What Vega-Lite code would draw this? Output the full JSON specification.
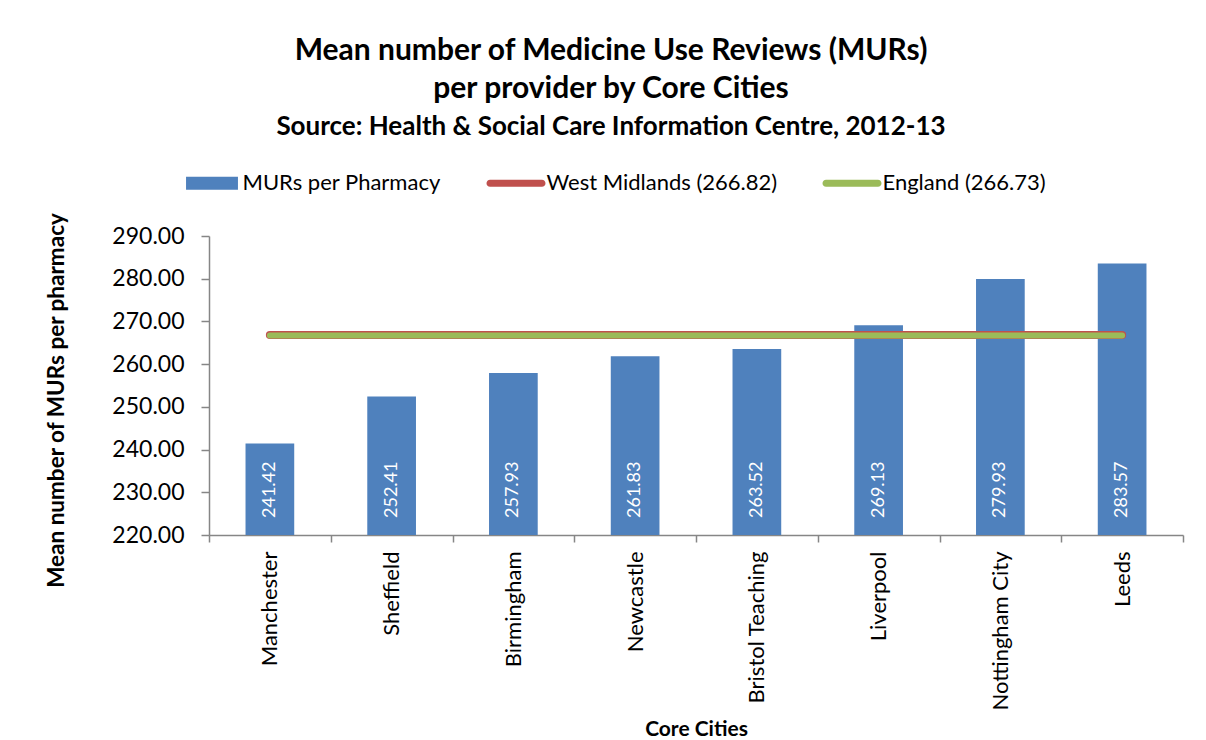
{
  "$schema": "https://vega.github.io/schema/vega-lite/v6.json",
  "width": 974,
  "height": 299,
  "autosize": "none",
  "padding": {"left": 209, "top": 236, "right": 23, "bottom": 205},
  "background": "white",
  "config": {
    "font": "Lato",
    "view": {"stroke": null},
    "legend": {
      "orient": "none",
      "legendX": -26.5,
      "legendY": -82.5,
      "direction": "horizontal",
      "title": null,
      "symbolSize": 3481,
      "symbolStrokeWidth": 0,
      "labelFontSize": 22,
      "labelColor": "black",
      "labelOffset": 1,
      "columnPadding": 44,
      "labelLimit": 400
    }
  },
  "title": {
    "text": ["Mean number of Medicine Use Reviews (MURs)", "per provider by Core Cities"],
    "subtitle": "Source: Health & Social Care Information Centre, 2012-13",
    "fontSize": 30,
    "fontWeight": "bold",
    "color": "black",
    "subtitleFontSize": 26,
    "subtitleFontWeight": "bold",
    "subtitleColor": "black",
    "subtitleFont": "Lato",
    "anchor": "middle",
    "dx": -85,
    "lineHeight": 38,
    "subtitlePadding": 10,
    "offset": 14
  },
  "datasets": {
    "bars": [
      {"city": "Manchester", "value": 241.42},
      {"city": "Sheffield", "value": 252.41},
      {"city": "Birmingham", "value": 257.93},
      {"city": "Newcastle", "value": 261.83},
      {"city": "Bristol Teaching", "value": 263.52},
      {"city": "Liverpool", "value": 269.13},
      {"city": "Nottingham City", "value": 279.93},
      {"city": "Leeds", "value": 283.57}
    ],
    "lines": [
      {"series": "West Midlands (266.82)", "city": "Manchester", "value": 266.82},
      {"series": "West Midlands (266.82)", "city": "Leeds", "value": 266.82},
      {"series": "England (266.73)", "city": "Manchester", "value": 266.73},
      {"series": "England (266.73)", "city": "Leeds", "value": 266.73}
    ]
  },
  "encoding": {
    "x": {
      "field": "city",
      "type": "nominal",
      "sort": null,
      "scale": {
        "domain": ["Manchester", "Sheffield", "Birmingham", "Newcastle", "Bristol Teaching", "Liverpool", "Nottingham City", "Leeds"],
        "paddingInner": 0,
        "paddingOuter": 0
      },
      "axis": {
        "title": "Core Cities",
        "titleFontSize": 21,
        "titleFontWeight": "bold",
        "titleColor": "black",
        "titlePadding": 8,
        "labelAngle": 270,
        "labelFontSize": 22,
        "labelColor": "black",
        "labelPadding": 9,
        "labelLimit": 400,
        "tickBand": "extent",
        "tickSize": 7,
        "tickColor": "#868686",
        "domainColor": "#868686",
        "domainWidth": 1.5,
        "tickWidth": 1.5
      }
    }
  },
  "layer": [
    {
      "data": {"name": "bars"},
      "mark": {"type": "bar", "width": {"band": 0.4}, "clip": true},
      "encoding": {
        "y": {
          "field": "value",
          "type": "quantitative",
          "scale": {"domain": [220, 290], "nice": false, "zero": false},
          "axis": {
            "title": "Mean number of MURs per pharmacy",
            "titleFontSize": 22.5,
            "titleFontWeight": "bold",
            "titleColor": "black",
            "titlePadding": 43,
            "titleY": 164,
            "values": [220, 230, 240, 250, 260, 270, 280, 290],
            "format": ".2f",
            "labelFontSize": 23,
            "labelColor": "black",
            "labelPadding": 17,
            "tickSize": 8,
            "tickColor": "#868686",
            "domainColor": "#868686",
            "domainWidth": 1.5,
            "tickWidth": 1.5,
            "grid": false
          }
        },
        "color": {
          "datum": "MURs per Pharmacy",
          "type": "nominal",
          "scale": {
            "domain": ["MURs per Pharmacy", "West Midlands (266.82)", "England (266.73)"],
            "range": ["#4F81BD", "#C0504D", "#9BBB59"]
          },
          "legend": {
            "title": null,
            "encode": {
              "symbols": {
                "update": {
                  "shape": {"signal": "datum.value === 'MURs per Pharmacy' ? 'M-0.88,-0.22H0.88V0.22H-0.88Z' : 'M-0.88,-0.12H0.88A0.12,0.12 0 0 1 0.88,0.12H-0.88A0.12,0.12 0 0 1 -0.88,-0.12ZM0,-0.22L0.001,-0.22M0,0.22L0.001,0.22'"},
                  "fill": {"scale": "color", "field": "value"},
                  "stroke": {"value": "transparent"},
                  "opacity": {"value": 1},
                  "fillOpacity": {"value": 1},
                  "strokeOpacity": {"value": 0}
                }
              }
            }
          }
        }
      }
    },
    {
      "data": {"name": "bars"},
      "mark": {"type": "text", "angle": 270, "align": "left", "baseline": "middle", "dx": 17, "fontSize": 18, "color": "white"},
      "encoding": {
        "y": {"datum": 220, "type": "quantitative"},
        "text": {"field": "value", "type": "quantitative", "format": ".2f"}
      }
    },
    {
      "data": {"name": "lines"},
      "transform": [{"filter": "datum.series === 'West Midlands (266.82)'"}],
      "mark": {"type": "line", "strokeWidth": 8, "strokeCap": "round"},
      "encoding": {
        "y": {"field": "value", "type": "quantitative"},
        "color": {"field": "series", "type": "nominal", "legend": {"title": null}}
      }
    },
    {
      "data": {"name": "lines"},
      "transform": [{"filter": "datum.series === 'England (266.73)'"}],
      "mark": {"type": "line", "strokeWidth": 6, "strokeCap": "round"},
      "encoding": {
        "y": {"field": "value", "type": "quantitative"},
        "color": {"field": "series", "type": "nominal", "legend": {"title": null}}
      }
    }
  ]
}
